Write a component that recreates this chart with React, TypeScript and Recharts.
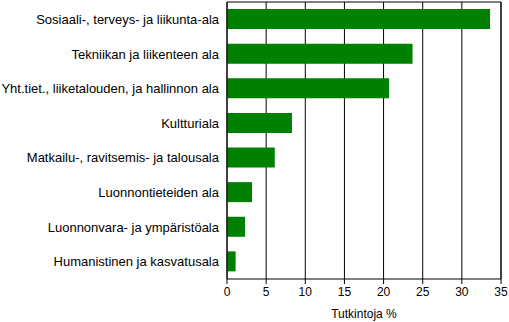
import { Bar, BarChart, CartesianGrid, ReferenceLine, XAxis, YAxis } from "recharts"

const categories = [
  "Sosiaali-, terveys- ja liikunta-ala",
  "Tekniikan ja liikenteen ala",
  "Yht.tiet., liiketalouden, ja hallinnon ala",
  "Kultturiala",
  "Matkailu-, ravitsemis- ja talousala",
  "Luonnontieteiden ala",
  "Luonnonvara- ja ympäristöala",
  "Humanistinen ja kasvatusala",
]

const shares = [33.6, 23.7, 20.7, 8.3, 6.1, 3.2, 2.3, 1.1]

const xTicks = [0, 5, 10, 15, 20, 25, 30, 35]

const data = categories.map((name, i) => ({ name, value: shares[i] }))

const font = "'Liberation Sans', Arial, sans-serif"

// plain text tick so long labels stay on one line
const CategoryTick = (props: any) => {
  const { x, y, payload } = props
  return (
    <text x={x} y={y} dy="0.355em" textAnchor="end" fill="#000" fontSize={13} fontFamily={font}>
      {payload.value}
    </text>
  )
}

export default function App() {
  return (
    <div style={{ position: "absolute", left: 0, top: 0, fontFamily: font }}>
      <BarChart
        layout="vertical"
        width={509}
        height={322}
        data={data}
        margin={{ top: 0, right: 8, bottom: 0, left: 0 }}
      >
        <CartesianGrid horizontal={false} stroke="#000" strokeOpacity={1} />
        <XAxis
          type="number"
          domain={[0, 35]}
          ticks={xTicks}
          interval={0}
          height={43}
          stroke="#000"
          tickSize={5}
          tickMargin={3}
          tick={{ fill: "#000", fontSize: 12, fontFamily: font }}
          label={{ value: "Tutkintoja %", position: "insideBottom", offset: 4, fill: "#000", fontSize: 12, fontFamily: font }}
        />
        <XAxis
          xAxisId="top"
          orientation="top"
          type="number"
          domain={[0, 35]}
          height={2}
          ticks={xTicks}
          tick={false}
          tickLine={false}
          axisLine={{ stroke: "#000" }}
        />
        <YAxis
          type="category"
          dataKey="name"
          width={227}
          stroke="#000"
          tickLine={false}
          tickSize={0}
          tickMargin={8}
          tick={<CategoryTick />}
        />
        <ReferenceLine x={35} stroke="#000" />
        <Bar dataKey="value" fill="#008000" barSize={20} isAnimationActive={false} />
      </BarChart>
    </div>
  )
}
